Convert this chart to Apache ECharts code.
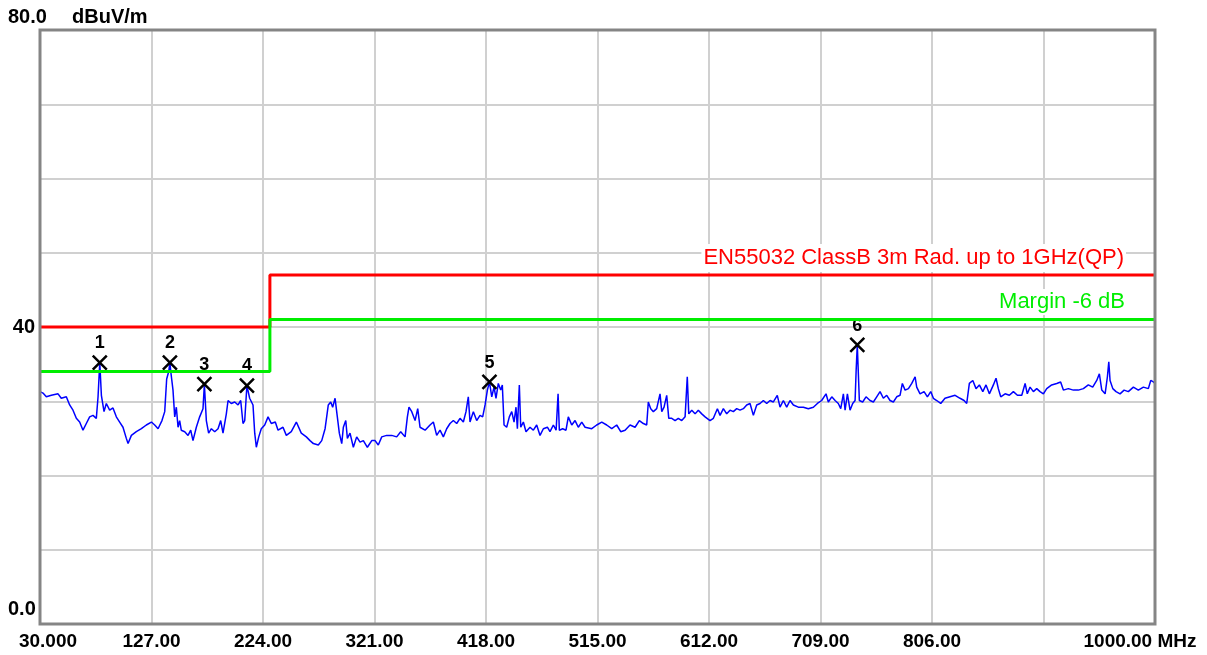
<!DOCTYPE html>
<html>
<head>
<meta charset="utf-8">
<script src="https://cdn.jsdelivr.net/npm/echarts@6/dist/echarts.min.js"></script>
<style>
html,body{margin:0;padding:0;background:#fff;}
#chart{width:1207px;height:655px;}
</style>
</head>
<body>
<div id="chart"></div>
<script>
// ---- data ----
const xTickLabels = ['30.000','127.00','224.00','321.00','418.00','515.00','612.00','709.00','806.00','','1000.00 MHz'];
const yUnit = 'dBuV/m';
const yTopLabel = '80.0';
const yBottomLabel = '0.0';
const yMidLabel = '40';

const traceFreq = [30.0,31.1,32.6,35.5,39.9,45.7,48.5,52.9,55.8,58.7,61.6,64.5,67.4,70.3,73.2,76.1,79.0,80.5,82.0,83.4,85.7,87.7,90.6,93.5,96.4,99.3,102.2,105.1,106.6,109.5,113.8,118.2,122.5,126.9,129.8,132.7,136.1,138.5,140.2,142.0,143.0,144.0,145.7,147.2,148.6,150.1,151.5,152.9,155.9,158.8,161.1,163.1,166.0,168.9,171.8,173.0,174.7,176.7,179.1,182.0,184.9,187.2,189.2,192.1,193.6,196.4,199.4,202.3,204.6,206.6,208.1,210.0,212.4,215.3,216.8,218.2,220.3,222.5,225.5,228.4,231.2,234.7,237.1,241.4,244.3,248.6,253.0,257.3,261.7,
264.9,267.8,272.1,275.1,278.0,279.4,280.8,282.9,284.6,286.7,288.1,290.4,292.5,293.9,296.0,297.4,299.7,302.6,305.5,308.4,311.3,314.8,318.6,321.5,324.3,327.3,331.6,336.0,340.3,343.8,347.6,349.6,351.0,353.4,356.3,358.6,360.6,365.0,369.3,372.2,375.1,378.0,380.9,383.8,386.7,389.6,392.5,395.4,398.3,400.6,402.6,404.1,407.0,409.9,412.8,415.1,417.2,419.2,421.0,423.0,425.0,426.7,428.7,430.8,432.2,433.7,436.0,438.3,440.4,442.4,444.1,445.3,447.0,448.2,450.5,452.8,456.3,459.2,462.1,465.0,467.9,471.4,473.7,476.6,479.0,480.7,481.8,484.7,487.6,489.6,492.6,495.5,498.3,501.3,504.2,
510.0,514.3,518.7,523.0,527.4,531.7,535.2,539.0,543.3,547.7,551.4,554.9,557.8,559.2,561.3,563.6,566.5,569.4,570.9,572.9,575.2,577.0,579.6,582.5,585.3,588.3,591.2,593.1,594.4,597.0,599.9,602.7,605.7,608.6,612.9,615.8,619.3,621.6,624.5,627.4,630.3,633.2,636.1,639.0,641.9,644.8,647.7,650.6,653.5,656.4,659.3,662.2,665.1,668.0,671.4,673.8,676.7,679.6,682.5,685.4,689.7,694.1,698.4,702.8,706.3,710.0,713.8,715.8,718.8,721.7,724.5,726.6,728.9,730.4,732.4,734.7,737.0,739.1,740.0,741.0,742.8,745.7,748.6,752.1,
755.0,757.9,760.8,763.7,766.6,769.5,772.4,775.3,778.2,780.2,782.6,785.5,788.4,791.3,792.7,795.6,799.1,802.0,804.9,807.2,810.1,813.6,817.3,821.7,826.1,830.4,833.9,836.2,838.5,841.5,844.3,847.2,850.2,853.0,855.9,859.4,861.7,863.7,865.8,869.6,873.3,876.8,880.3,884.1,887.0,888.9,891.3,894.2,897.1,900.0,902.9,905.8,910.1,914.5,917.9,920.3,924.6,929.0,933.3,937.7,942.0,945.8,949.3,951.6,953.7,956.6,958.6,959.8,960.9,963.3,966.1,969.6,973.1,976.8,981.2,985.5,989.9,994.2,996.3,998.6,1000.0];

const traceLevel = [31.3,31.5,31.1,30.6,30.8,31.0,30.4,30.6,29.5,28.8,27.7,27.2,26.1,27.0,27.9,28.1,27.7,30.6,35.2,30.8,28.6,29.7,28.8,29.1,27.9,27.2,26.5,25.0,24.3,25.4,25.9,26.3,26.8,27.2,26.8,26.3,27.4,28.6,33.0,34.0,35.2,33.7,31.5,27.9,29.2,26.5,27.4,26.1,25.9,25.4,26.1,24.7,26.5,27.9,29.0,32.3,27.4,25.7,26.3,25.9,26.3,27.4,25.7,28.3,30.1,29.7,29.9,29.5,30.1,27.0,27.4,32.1,30.4,29.5,25.7,23.8,25.2,26.3,26.8,27.9,27.0,27.2,26.1,26.5,25.4,25.9,27.2,25.7,25.2,
24.7,24.3,24.1,24.7,26.3,27.9,29.5,29.9,29.2,30.4,28.6,25.7,24.3,26.5,27.4,25.0,25.7,23.8,25.2,24.5,24.7,23.8,24.7,24.7,24.1,25.2,25.4,25.4,25.2,25.9,25.2,27.9,29.2,28.6,27.4,29.0,26.5,26.1,26.8,27.2,25.4,26.1,25.2,26.3,27.0,27.4,27.0,27.7,27.2,28.6,30.6,27.2,28.6,27.4,28.1,27.9,29.5,31.5,32.6,30.6,31.9,30.4,32.4,31.5,32.2,26.8,26.5,27.9,28.6,27.2,29.2,26.3,32.2,26.5,27.2,25.9,26.5,26.1,26.8,25.4,26.3,26.5,25.9,26.8,26.1,31.0,26.1,26.3,26.1,27.9,26.8,27.4,26.5,27.2,26.5,
26.3,26.8,27.2,26.8,26.3,26.8,25.9,26.1,26.8,26.5,27.4,27.0,26.8,29.9,29.0,28.6,29.0,31.0,28.6,29.2,30.8,27.7,27.7,27.4,27.7,27.4,27.9,33.3,28.3,28.8,28.3,28.8,28.3,27.9,27.4,27.7,29.0,28.1,29.0,28.3,28.8,28.6,29.0,28.8,29.0,29.5,29.7,28.1,29.5,29.7,30.1,29.7,30.1,29.9,30.8,29.2,30.1,29.2,30.1,29.5,29.2,29.2,29.0,29.2,29.7,30.1,31.0,29.9,30.6,30.1,29.7,29.0,31.0,28.8,31.0,28.8,29.7,30.1,34.1,37.6,30.1,29.9,30.6,30.1,
29.9,30.6,31.3,30.4,30.8,30.1,29.9,30.6,30.8,32.4,31.5,31.7,32.4,33.3,31.9,31.0,31.3,30.6,31.3,30.4,30.1,29.7,30.4,30.6,30.8,30.4,30.1,29.7,32.4,32.8,31.7,32.2,31.3,32.2,31.0,32.2,33.1,31.7,30.6,31.0,30.8,31.3,30.8,30.8,32.4,31.0,31.9,31.3,31.7,31.3,31.0,31.7,32.2,32.4,32.6,31.5,31.7,31.5,31.5,31.7,32.2,31.9,32.8,33.7,31.5,31.0,33.3,35.3,32.8,31.7,31.3,31.0,31.5,31.3,31.9,31.5,31.9,31.7,32.8,32.6,32.4];

const limitName = 'EN55032 ClassB 3m Rad. up to 1GHz(QP)';
const limitFreq = [30, 230, 230, 1000];
const limitLevel = [40, 40, 47, 47];

const marginName = 'Margin -6 dB';
const marginFreq = [30, 230, 230, 1000];
const marginLevel = [34, 34, 41, 41];

const markerLabels = ['1','2','3','4','5','6'];
const markerFreq = [82, 143, 173, 210, 421, 741];
const markerLevel = [35.2, 35.2, 32.3, 32.1, 32.6, 37.6];

// ---- build ----
const F0 = 30;   // axis start (MHz); x values are offsets from it so ticks start at 30
const pairs = (fs, ls) => fs.map((f, i) => [f - F0, ls[i]]);

const chart = echarts.init(document.getElementById('chart'), null, {renderer: 'canvas'});
const FONT = "'Liberation Sans', Arial, sans-serif";
const GL = 40, GT = 30, GR = 52, GB = 31, W = 1207, H = 655;

chart.setOption({
  animation: false,
  backgroundColor: '#ffffff',
  grid: {left: GL, right: GR, top: GT, bottom: GB, show: false, containLabel: false, outerBoundsMode: 'none'},
  xAxis: {
    type: 'value', min: 0, max: 970, interval: 97,
    axisLine: {show: false}, axisTick: {show: false},
    splitLine: {show: true, lineStyle: {color: '#d0d0d0', width: 2}},
    axisLabel: {
      margin: 8, color: '#000', fontFamily: FONT, fontWeight: 'bold', fontSize: 19,
      showMinLabel: true, showMaxLabel: true, hideOverlap: false,
      formatter: v => {
        const i = Math.round(v / 97);
        const t = xTickLabels[i] || '';
        if (i === 0) return '{first|' + t + '}';
        if (i === xTickLabels.length - 1) return '{last|' + t + '}';
        return t;
      },
      rich: {
        first: {fontFamily: FONT, fontWeight: 'bold', fontSize: 19, color: '#000', padding: [0, 0, 0, 16]},
        last: {fontFamily: FONT, fontWeight: 'bold', fontSize: 19, color: '#000', padding: [0, 30, 0, 0]}
      }
    }
  },
  yAxis: {
    type: 'value', min: 0, max: 80, interval: 10,
    axisLine: {show: false}, axisTick: {show: false},
    splitLine: {show: true, lineStyle: {color: '#d0d0d0', width: 2}},
    axisLabel: {
      margin: 5, color: '#000', fontFamily: FONT, fontWeight: 'bold', fontSize: 20,
      formatter: v => (v === 40 ? yMidLabel : '')
    }
  },
  graphic: [
    {type: 'rect', z: 100, silent: true,
      shape: {x: GL, y: GT, width: W - GL - GR, height: H - GT - GB},
      style: {fill: 'none', stroke: '#858585', lineWidth: 3}},
    {type: 'text', left: 8, top: 7, style: {text: yTopLabel, fill: '#000', font: 'bold 20px ' + FONT}},
    {type: 'text', left: 72, top: 7, style: {text: yUnit, fill: '#000', font: 'bold 20px ' + FONT}},
    {type: 'text', left: 8, top: 599, style: {text: yBottomLabel, fill: '#000', font: 'bold 20px ' + FONT}},
    {type: 'text', right: 81, top: 244, z: 50,
      style: {text: limitName, fill: '#ff0000', font: '22px ' + FONT, backgroundColor: '#ffffff', padding: [3, 2, 3, 2]}},
    {type: 'text', right: 80, top: 289, z: 50,
      style: {text: marginName, fill: '#00ee00', font: '22px ' + FONT, backgroundColor: '#ffffff', padding: [2, 2, 2, 2]}}
  ],
  series: [
    {
      name: 'trace', type: 'line', data: pairs(traceFreq, traceLevel),
      showSymbol: false, symbol: 'none', lineStyle: {color: '#0000ff', width: 1.5}, z: 2,
      emphasis: {disabled: true}
    },
    {
      name: 'markers', type: 'scatter', data: pairs(markerFreq, markerLevel),
      symbol: 'path://M0,0L10,10M10,0L0,10', symbolSize: 14,
      itemStyle: {color: 'rgba(0,0,0,0)', borderColor: '#000', borderWidth: 2.5, opacity: 1},
      label: {show: true, position: 'top', distance: 2, color: '#000', opacity: 1, fontFamily: FONT, fontWeight: 'bold', fontSize: 18,
        formatter: p => markerLabels[p.dataIndex]},
      z: 3, emphasis: {disabled: true}
    },
    {
      name: limitName, type: 'line', data: pairs(limitFreq, limitLevel),
      showSymbol: false, symbol: 'none', lineStyle: {color: '#ff0000', width: 3}, z: 4,
      emphasis: {disabled: true}
    },
    {
      name: marginName, type: 'line', data: pairs(marginFreq, marginLevel),
      showSymbol: false, symbol: 'none', lineStyle: {color: '#00ee00', width: 3}, z: 5,
      emphasis: {disabled: true}
    }
  ]
});
</script>
</body>
</html>
